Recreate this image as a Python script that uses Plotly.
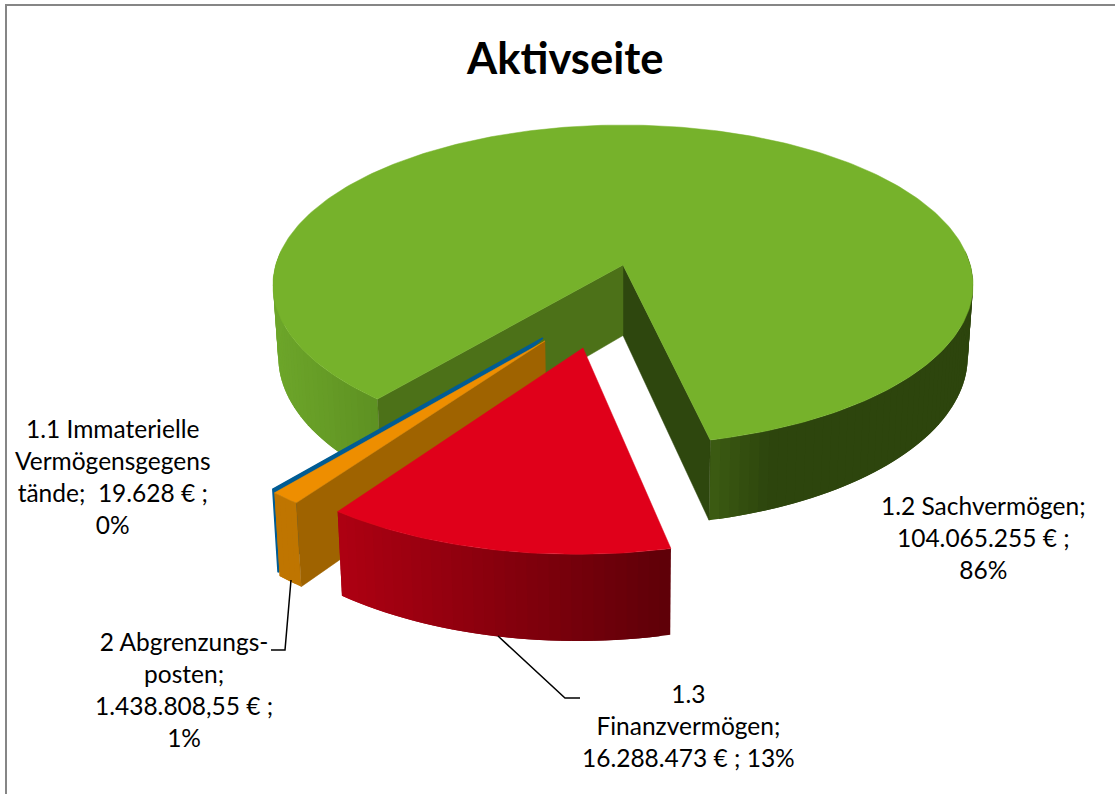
import math
import plotly.graph_objects as go

# ---- data -------------------------------------------------------------
CATEGORIES = ["1.2 Sachvermögen", "1.3 Finanzvermögen", "2 Abgrenzungsposten", "1.1 Immaterielle Vermögensgegenstände"]
VALUES = [104065255, 16288473, 1438808.55, 19628]
LABELS = [
    "1.2 Sachvermögen;<br>104.065.255 € ;<br>86%",
    "1.3<br>Finanzvermögen;<br>16.288.473 € ; 13%",
    "2 Abgrenzungs-<br>posten;<br>1.438.808,55 € ;<br>1%",
    "1.1 Immaterielle<br>Vermögensgegens<br>tände;  19.628 € ;<br>0%",
]
TITLE = "Aktivseite"

# ---- pie projection and style ------------------------------------------
W, H = 1115, 794
CX, CY = 623, 285          # centre of the rim ellipse
A, B, C, K = 347.3, 160.0, -20.0, -0.125   # homography of the tilted disc
DEPTH = 70.5
BOTTOM_SCALE = 0.985
START_ANGLE = 129.7
EXPLODE = [(0, 0), (-0.108, 0.494), (-0.212, 0.455), (-0.218, 0.438)]
TOP = ["#76B22B", "#E0001A", "#EE8E00", "#005C94"]
FONT = "Lato"


def project(u, v, low=False):
    w = 1 + K * v
    x = A * u / w
    y = (B * v + C) / w
    if low:
        x *= BOTTOM_SCALE
        y += DEPTH / w
    return CX + x, CY + y


def mix(c1, c2, t):
    a = [int(c1[i:i + 2], 16) for i in (1, 3, 5)]
    b = [int(c2[i:i + 2], 16) for i in (1, 3, 5)]
    t = max(0.0, min(1.0, t))
    return "#%02x%02x%02x" % tuple(round(p + (q - p) * t) for p, q in zip(a, b))


fig = go.Figure()


def poly(points, color, line=None, lw=0.0):
    xs = [p[0] for p in points] + [points[0][0]]
    ys = [p[1] for p in points] + [points[0][1]]
    fig.add_trace(go.Scatter(x=xs, y=ys, mode="lines", fill="toself", fillcolor=color,
                             line=dict(color=line or color, width=lw),
                             hoverinfo="skip", showlegend=False))


def rim(ex, deg, low=False):
    t = math.radians(deg)
    return project(ex[0] + math.cos(t), ex[1] + math.sin(t), low)


def arc_angles(a0, a1, step=1.5):
    n = max(1, int(abs(a1 - a0) / step))
    return [a0 + (a1 - a0) * i / n for i in range(n + 1)]


def outer_wall(ex, a0, a1, colour_at, step=1.5):
    """Overlapping strips, painted in order, so no seams show between them."""
    angs = arc_angles(a0, a1, step)
    n = len(angs) - 1
    for i in range(n):
        p, mid = angs[i], angs[i + 1]
        sub = [angs[j] for j in range(i, min(i + 3, n + 1))]
        top = [rim(ex, d) for d in sub]
        bot = [rim(ex, d, True) for d in reversed(sub)]
        poly(top + bot, colour_at(0.5 * (rim(ex, p)[0] + rim(ex, mid)[0])))


def inner_wall(ex, deg, color):
    poly([project(*ex), rim(ex, deg), rim(ex, deg, True), project(*ex, True)], color, color, 0.5)


def top_face(ex, a0, a1, color):
    poly([project(*ex)] + [rim(ex, d) for d in arc_angles(a0, a1, 1.0)], color, color, 0.5)


total = sum(VALUES)
sweeps = [v / total * 360 for v in VALUES]
starts = [START_ANGLE + sum(sweeps[:i]) for i in range(len(VALUES))]
ends = [s + d for s, d in zip(starts, sweeps)]

# green slice: outer wall, inner walls, top
g0, g1 = starts[0], ends[0]
outer_wall((0, 0), g0, 185, lambda x: mix("#6DA62A", "#5E9122", (x - 272) / 105))
outer_wall((0, 0), g1, 355, lambda x: mix("#3C5C13", "#2D450D", (x - 710) / 60))
inner_wall((0, 0), g1, "#2E470E")
inner_wall((0, 0), g0, "#4C7118")
top_face((0, 0), g0, g1, TOP[0])

# thin blue slice
ex = EXPLODE[3]
poly([project(*ex), rim(ex, starts[3]), rim(ex, starts[3], True)], TOP[3], TOP[3], 1.6)
# orange slice
ex = EXPLODE[2]
outer_wall(ex, starts[2], ends[2], lambda x: "#BF7500", 1.0)
inner_wall(ex, starts[2], "#9F6300")
top_face(ex, starts[2], ends[2], TOP[2])
# red slice
ex = EXPLODE[1]
outer_wall(ex, starts[1], ends[1], lambda x: mix("#AE0012", "#5E0008", (x - 337) / 333))
top_face(ex, starts[1], ends[1], TOP[1])

# leader lines
for xs, ys in (([498, 565, 580], [636, 698, 698]), ([291, 285, 271], [580, 650, 650])):
    fig.add_trace(go.Scatter(x=xs, y=ys, mode="lines", line=dict(color="black", width=1.5),
                             hoverinfo="skip", showlegend=False))
# frame
fig.add_trace(go.Scatter(x=[6, 6, W], y=[H, 5, 5], mode="lines", line=dict(color="#868686", width=2),
                         hoverinfo="skip", showlegend=False))

LABEL_POS = [(983, 537), (688, 725), (184, 689), (113, 476)]
for text, (x, y) in zip(LABELS, LABEL_POS):
    fig.add_annotation(x=x, y=y, text=text, showarrow=False, align="center",
                       xanchor="center", yanchor="middle",
                       font=dict(family=FONT, size=24.5, color="black"))
fig.add_annotation(x=565, y=57, text=f"<b>{TITLE}</b>", showarrow=False,
                   xanchor="center", yanchor="middle",
                   font=dict(family=FONT, size=43.5, color="black"))

fig.update_layout(
    width=W, height=H, margin=dict(l=0, r=0, t=0, b=0),
    paper_bgcolor="white", plot_bgcolor="white", showlegend=False,
    xaxis=dict(range=[0, W], visible=False, fixedrange=True),
    yaxis=dict(range=[H, 0], visible=False, fixedrange=True),
)
fig.write_html("out.html", config={"displayModeBar": False}, post_script=
               "document.body.style.margin='0';document.body.style.overflow='hidden';window.dispatchEvent(new Event('resize'));")
